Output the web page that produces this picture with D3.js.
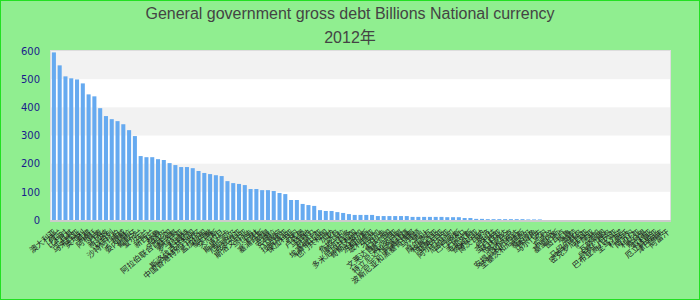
<!DOCTYPE html>
<html>
<head>
    <meta charset="utf-8">
    <title>General government gross debt</title>
    <script src="https://d3js.org/d3.v7.min.js"></script>
    <style>
        body { margin: 0; }
    </style>
</head>
<body>
    <svg id="chart"></svg>

    <script>
        const titleLines = ["General government gross debt Billions National currency", "2012年"];

        const countries = [
            "澳大利亚", "荷兰", "比利时", "土耳其", "马来西亚", "奥地利", "希腊", "阿根廷", "丹麦", "新加坡",
            "以色列", "沙特阿拉伯", "挪威", "委内瑞拉", "葡萄牙", "爱尔兰", "芬兰", "新西兰", "秘鲁", "卡塔尔",
            "阿拉伯联合酋长国", "摩洛哥", "罗马尼亚", "科威特", "斯洛伐克共和国", "中国香港特别行政区", "孟加拉国", "黎巴嫩", "突尼斯", "约旦",
            "斯里兰卡", "厄瓜多尔", "克罗地亚", "斯洛文尼亚", "乌拉圭", "巴林", "塞浦路斯", "阿曼", "安哥拉", "立陶宛",
            "拉脱维亚", "保加利亚", "苏丹", "卢森堡", "马耳他", "巴拿马", "埃塞俄比亚", "也门共和国", "加纳", "冰岛",
            "危地马拉", "萨尔瓦多", "多米尼加共和国", "哥斯达黎加", "洪都拉斯", "玻利维亚", "牙买加", "巴拉圭", "文莱达鲁萨兰国", "爱沙尼亚",
            "特立尼达和多巴哥", "阿塞拜疆", "波斯尼亚和黑塞哥维那", "马其顿", "黑山", "摩尔多瓦", "格鲁吉亚", "亚美尼亚", "阿尔巴尼亚", "尼加拉瓜",
            "巴巴多斯", "巴哈马", "毛里求斯", "纳米比亚", "博茨瓦纳", "斐济", "伯利兹", "圣卢西亚", "格林纳达", "多米尼克",
            "安提瓜和巴布达", "圣基茨和尼维斯", "塞舌尔", "佛得角", "马尔代夫", "不丹", "东帝汶", "基里巴斯", "图瓦卢", "瑙鲁",
            "帕劳", "马绍尔群岛", "密克罗尼西亚", "萨摩亚", "汤加", "瓦努阿图", "所罗门群岛", "巴布亚新几内亚", "圣马力诺", "科索沃",
            "南苏丹", "利比亚", "索马里", "叙利亚", "厄立特里亚", "津巴布韦", "阿富汗"
        ];

        // billions, national currency (countries without data are left out)
        const debt = [
            595, 549, 510, 503, 499, 485, 446, 439, 397, 369,
            358, 351, 340, 319, 298, 227, 223, 223, 216, 213,
            202, 195, 188, 188, 184, 174, 167, 163, 159, 156,
            138, 131, 128, 124, 110, 110, 106, 106, 103, 96,
            92, 71, 71, 57, 53, 50, 35, 32, 32, 28,
            25, 21, 18, 18, 18, 18, 14, 14, 14, 14,
            14, 14, 11, 11, 11, 11, 11, 11, 10, 10,
            10, 7, 7, 4, 4, 3, 3, 3, 3, 3,
            3, 3, 2, 2, 2
        ];

        const yTicks = [0, 100, 200, 300, 400, 500, 600];

        const width = 700;
        const height = 300;
        const margin = { top: 51, right: 30, bottom: 80, left: 51 };
        const plotW = width - margin.left - margin.right;
        const plotH = height - margin.top - margin.bottom;

        const svg = d3.select("#chart")
            .attr("width", width)
            .attr("height", height);

        svg.append("rect")
            .attr("x", 0.5).attr("y", 0.5)
            .attr("width", width - 1).attr("height", height - 1)
            .attr("fill", "#90ee90")
            .attr("stroke", "#22e022");

        svg.selectAll("text.title")
            .data(titleLines)
            .enter()
            .append("text")
            .attr("class", "title")
            .attr("x", width / 2)
            .attr("y", (d, i) => 19 + i * 24)
            .attr("text-anchor", "middle")
            .attr("font-family", "'Liberation Sans', Arial, 'Noto Sans CJK SC', sans-serif")
            .attr("font-size", 16)
            .attr("fill", "#444")
            .text(d => d);

        const g = svg.append("g")
            .attr("transform", `translate(${margin.left},${margin.top})`);

        const x = d3.scaleBand()
            .domain(countries)
            .range([0, plotW])
            .paddingInner(0.3)
            .paddingOuter(0.15);

        const y = d3.scaleLinear()
            .domain([0, 600])
            .range([plotH, 0]);

        g.append("rect")
            .attr("width", plotW)
            .attr("height", plotH)
            .attr("fill", "#fff");

        // alternating bands
        g.selectAll("rect.band")
            .data(yTicks.slice(0, -1).filter((d, i) => i % 2 === 1))
            .enter()
            .append("rect")
            .attr("class", "band")
            .attr("x", 0)
            .attr("width", plotW)
            .attr("y", d => y(d + 100))
            .attr("height", d => y(d) - y(d + 100))
            .attr("fill", "#f2f2f2");

        g.append("rect")
            .attr("x", -0.5).attr("y", -0.5)
            .attr("width", plotW + 1)
            .attr("height", plotH + 1)
            .attr("fill", "none")
            .attr("stroke", "#ddd");

        g.selectAll("rect.bar")
            .data(debt)
            .enter()
            .append("rect")
            .attr("class", "bar")
            .attr("x", (d, i) => x(countries[i]))
            .attr("width", x.bandwidth())
            .attr("y", d => y(d))
            .attr("height", d => plotH - y(d))
            .attr("fill", "#66aaf0");

        g.append("line")
            .attr("x1", -1).attr("x2", plotW + 1)
            .attr("y1", plotH + 1).attr("y2", plotH + 1)
            .attr("stroke", "#ccc")
            .attr("stroke-width", 2);

        const yAxis = g.append("g")
            .call(d3.axisLeft(y).tickValues(yTicks).tickSize(0).tickPadding(11));
        yAxis.select(".domain").remove();
        yAxis.selectAll("text")
            .attr("font-family", "'DejaVu Sans', sans-serif")
            .attr("font-size", 10)
            .attr("fill", "#1a1a8c");

        const xAxis = g.append("g")
            .attr("transform", `translate(0,${plotH})`)
            .call(d3.axisBottom(x).tickSize(0).tickPadding(0));
        xAxis.select(".domain").remove();
        xAxis.selectAll("text")
            .attr("font-family", "'Noto Sans CJK SC', sans-serif")
            .attr("font-size", 8)
            .attr("fill", "#222")
            .attr("text-anchor", "end")
            .attr("dy", 0)
            .attr("transform", "translate(3,13) rotate(-40)");
    </script>
</body>
</html>
